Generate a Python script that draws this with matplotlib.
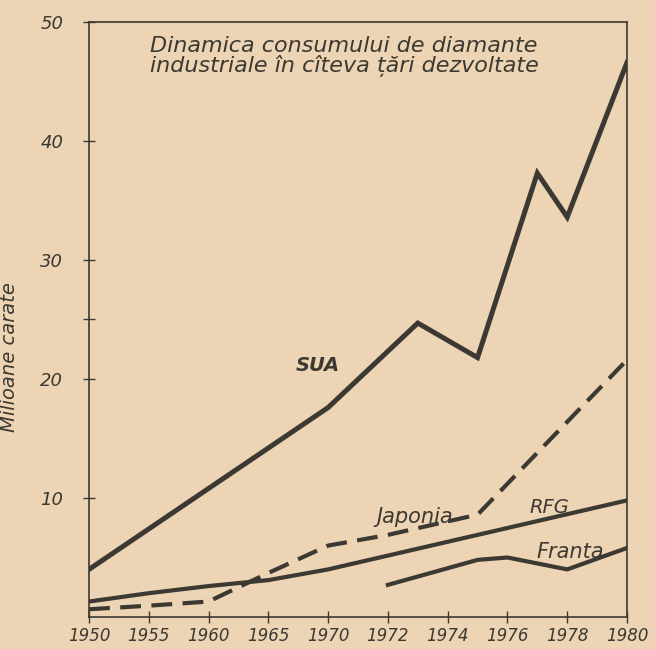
import numpy as np
import matplotlib
matplotlib.use("Agg")
import matplotlib.pyplot as plt

# values (milioane carate)
sua_years = [1950, 1970, 1973, 1975, 1977, 1978, 1980]
sua_vals = [4.0, 17.6, 24.7, 21.8, 37.3, 33.6, 46.6]

japonia_years = [1950, 1955, 1960, 1965, 1970, 1972, 1975, 1980]
japonia_vals = [0.65, 0.95, 1.3, 3.7, 6.0, 6.9, 8.6, 21.6]

rfg_years = [1950, 1955, 1960, 1965, 1970, 1975, 1980]
rfg_vals = [1.3, 2.0, 2.6, 3.1, 4.0, 6.9, 9.8]

franta_years = [1972, 1975, 1976, 1978, 1980]
franta_vals = [2.7, 4.8, 5.0, 4.0, 5.8]

x_ticks = [1950, 1955, 1960, 1965, 1970, 1972, 1974, 1976, 1978, 1980]
y_ticks = [10, 20, 25, 30, 40, 50]
y_ticklabels = ["10", "20", "", "30", "40", "50"]

title = "Dinamica consumului de diamante\nindustriale în cîteva țări dezvoltate"

PAPER = "#ecd4b4"
INK = "#3b3932"


# the drawing uses 5-year steps up to 1970, then 2-year steps
def fwd(x):
    x = np.asarray(x, dtype=float)
    return np.where(x <= 1970, (x - 1950) / 5.0, 4 + (x - 1970) / 2.0)


def inv(p):
    p = np.asarray(p, dtype=float)
    return np.where(p <= 4, 1950 + 5.0 * p, 1970 + 2.0 * (p - 4))


fig = plt.figure(figsize=(6.55, 6.49), dpi=100, facecolor=PAPER)
ax = fig.add_axes([89 / 655, 1 - 617 / 649, 538 / 655, 595 / 649])
ax.set_facecolor(PAPER)
ax.set_xscale("function", functions=(fwd, inv))
ax.set_xlim(1950, 1980)
ax.set_ylim(0, 50)

ax.plot(sua_years, sua_vals, color=INK, lw=3.6, solid_joinstyle="miter")
ax.plot(japonia_years, japonia_vals, color=INK, lw=3.0,
        dashes=(5, 2.5), solid_capstyle="round")
ax.plot(rfg_years, rfg_vals, color=INK, lw=3.0)
ax.plot(franta_years, franta_vals, color=INK, lw=3.0)

for s in ax.spines.values():
    s.set_color(INK)
    s.set_linewidth(1.2)

ax.set_xticks(x_ticks)
ax.set_xticklabels([str(t) for t in x_ticks])
ax.minorticks_off()
ax.set_yticks(y_ticks)
ax.set_yticklabels(y_ticklabels)
ax.tick_params(axis="x", direction="inout", length=9, width=1, color=INK,
               pad=3, labelcolor=INK)
ax.tick_params(axis="y", direction="inout", length=9, width=1, color=INK,
               pad=14, labelcolor=INK)
for lab in ax.get_xticklabels():
    lab.set_style("italic")
    lab.set_fontsize(12)
for lab in ax.get_yticklabels():
    lab.set_style("italic")
    lab.set_fontsize(13)

ax.set_ylabel("Milioane carate", style="italic", fontsize=14, color=INK)
ax.yaxis.set_label_coords(-0.13, 0.437)

ax.text(0.113, 0.977, title, transform=ax.transAxes, ha="left", va="top",
        fontsize=16, style="italic", color=INK, linespacing=0.95)

ax.text(1969.1, 21.1, "SUA", ha="center", va="center", fontsize=14,
        style="italic", weight="bold", color=INK)
ax.text(1972.9, 8.4, "Japonia", ha="center", va="center", fontsize=15,
        style="italic", color=INK)
ax.text(1977.4, 9.2, "RFG", ha="center", va="center", fontsize=14,
        style="italic", color=INK)
ax.text(1978.1, 5.5, "Franta", ha="center", va="center", fontsize=15,
        style="italic", color=INK)

fig.savefig("out.png", dpi=100, facecolor=PAPER)
